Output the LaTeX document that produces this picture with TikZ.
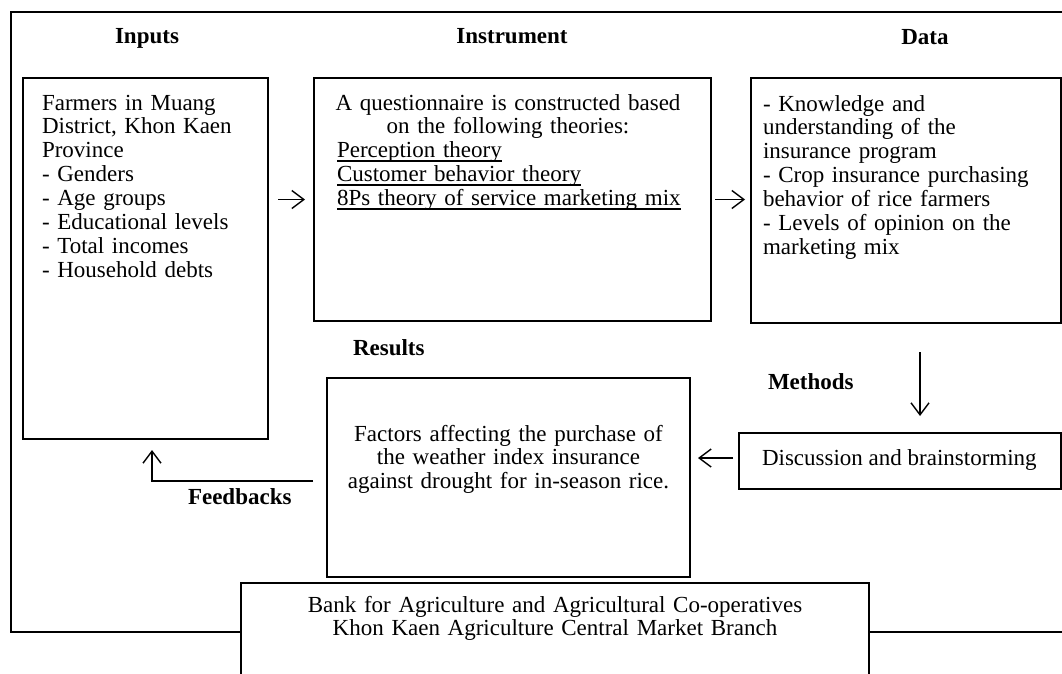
\documentclass[tikz,border=0pt]{standalone}
\usepackage{fontspec}
\setmainfont{Liberation Serif}
\usetikzlibrary{arrows.meta}
\newcommand\myul[1]{\leavevmode\setbox0\hbox{#1}\rlap{\rule[-4pt]{\wd0}{1.8pt}}\box0}
\tikzset{
  box/.style={draw, line width=1.6pt, anchor=north west, inner sep=0pt, outer sep=0pt},
  txt/.style={inner sep=0pt, outer sep=0pt, font={\fontsize{23}{23.9}\selectfont}},
  head/.style={inner sep=0pt, outer sep=0pt, font={\fontsize{23}{23.9}\selectfont\bfseries}, anchor=base},
  frame/.style={line width=1.6pt},
  arr/.style={line width=1.4pt, -{Straight Barb[length=12pt,width=18pt,line width=1.4pt]}}
}
\begin{document}
\begin{tikzpicture}[x=1pt,y=-1pt]
\useasboundingbox (0,0) rectangle (1062,673);
% boxes
\node[box, minimum width=245pt, minimum height=361pt] (inp) at (23,78) {};
\node[box, minimum width=397pt, minimum height=243pt] (ins) at (314,78) {};
\node[box, minimum width=310pt, minimum height=245pt] (dat) at (751,78) {};
\node[box, minimum width=363pt, minimum height=199pt] (res) at (327,378) {};
\node[box, minimum width=322pt, minimum height=56pt] (disc) at (739,433) {};
\node[anchor=north west, inner sep=0pt, outer sep=0pt, minimum width=628pt, minimum height=100pt] (bank) at (241,583) {};
\draw[frame] (bank.south west) -- (bank.north west) -- (bank.north east) -- (bank.south east);
% outer frame
\coordinate (bl) at (0,632);
\draw[frame] (1066,12) -| (11,632) -- (bank.west |- bl);
\draw[frame] (bank.east |- bl) -- (1066,632);
% headings
\node[head] (hInp) at (147,43) {Inputs};
\node[head] (hIns) at (512,43) {Instrument};
\node[head] (hDat) at (925,44) {Data};
\node[head, anchor=base west] (hRes) at (353,355) {Results};
\node[head, anchor=base west] (hMet) at (768,389) {Methods};
\node[head, anchor=base west] (hFb) at (188,504) {Feedbacks};
% texts
\node[txt, anchor=north west, text width=222pt, align=left] (inpT) at (42,93.3) {\strut Farmers in Muang\\District, Khon Kaen\\Province\\- Genders\\- Age groups\\- Educational levels\\- Total incomes\\- Household debts};
\node[txt, anchor=north west, text width=345pt, align=left] (insT) at (337,93.3) {\strut\makebox[342pt][c]{A questionnaire is constructed based}\\\makebox[342pt][c]{on the following theories:}\\\myul{Perception theory}\\\myul{Customer behavior theory}\\\myul{8Ps theory of service marketing mix}};
\node[txt, anchor=north west, text width=295pt, align=left] (datT) at (763,94.3) {\strut - Knowledge and\\understanding of the\\insurance program\\- Crop insurance purchasing\\behavior of rice farmers\\- Levels of opinion on the\\marketing mix};
\node[txt, anchor=north, text width=350pt, align=center] (resT) at (508.5,424.3) {\strut Factors affecting the purchase of\\the weather index insurance\\against drought for in-season rice.};
\node[txt, anchor=base west] (discT) at (762,465) {Discussion and brainstorming};
\node[txt, anchor=north, text width=620pt, align=center] (bankT) at (555,595.3) {\strut Bank for Agriculture and Agricultural Co-operatives\\Khon Kaen Agriculture Central Market Branch};
% arrows
\coordinate (dx) at (920,0);
\coordinate (fbx) at (152,0);
\draw[arr, shorten <=10pt, shorten >=9pt] (inp.east |- ins.west) -- (ins.west);
\draw[arr, shorten <=4pt, shorten >=6pt] (ins.east) -- (dat.west |- ins.east);
\draw[arr, shorten <=29pt, shorten >=17pt] (dat.south -| dx) -- (disc.north -| dx);
\draw[arr, shorten <=6pt, shorten >=8pt] ([yshift=3pt]disc.west) -- ([yshift=3pt]disc.west -| res.east);
\draw[arr, shorten <=14pt, shorten >=11pt] ([yshift=-3.5pt]res.west) -| (fbx |- inp.south);
\end{tikzpicture}
\end{document}
